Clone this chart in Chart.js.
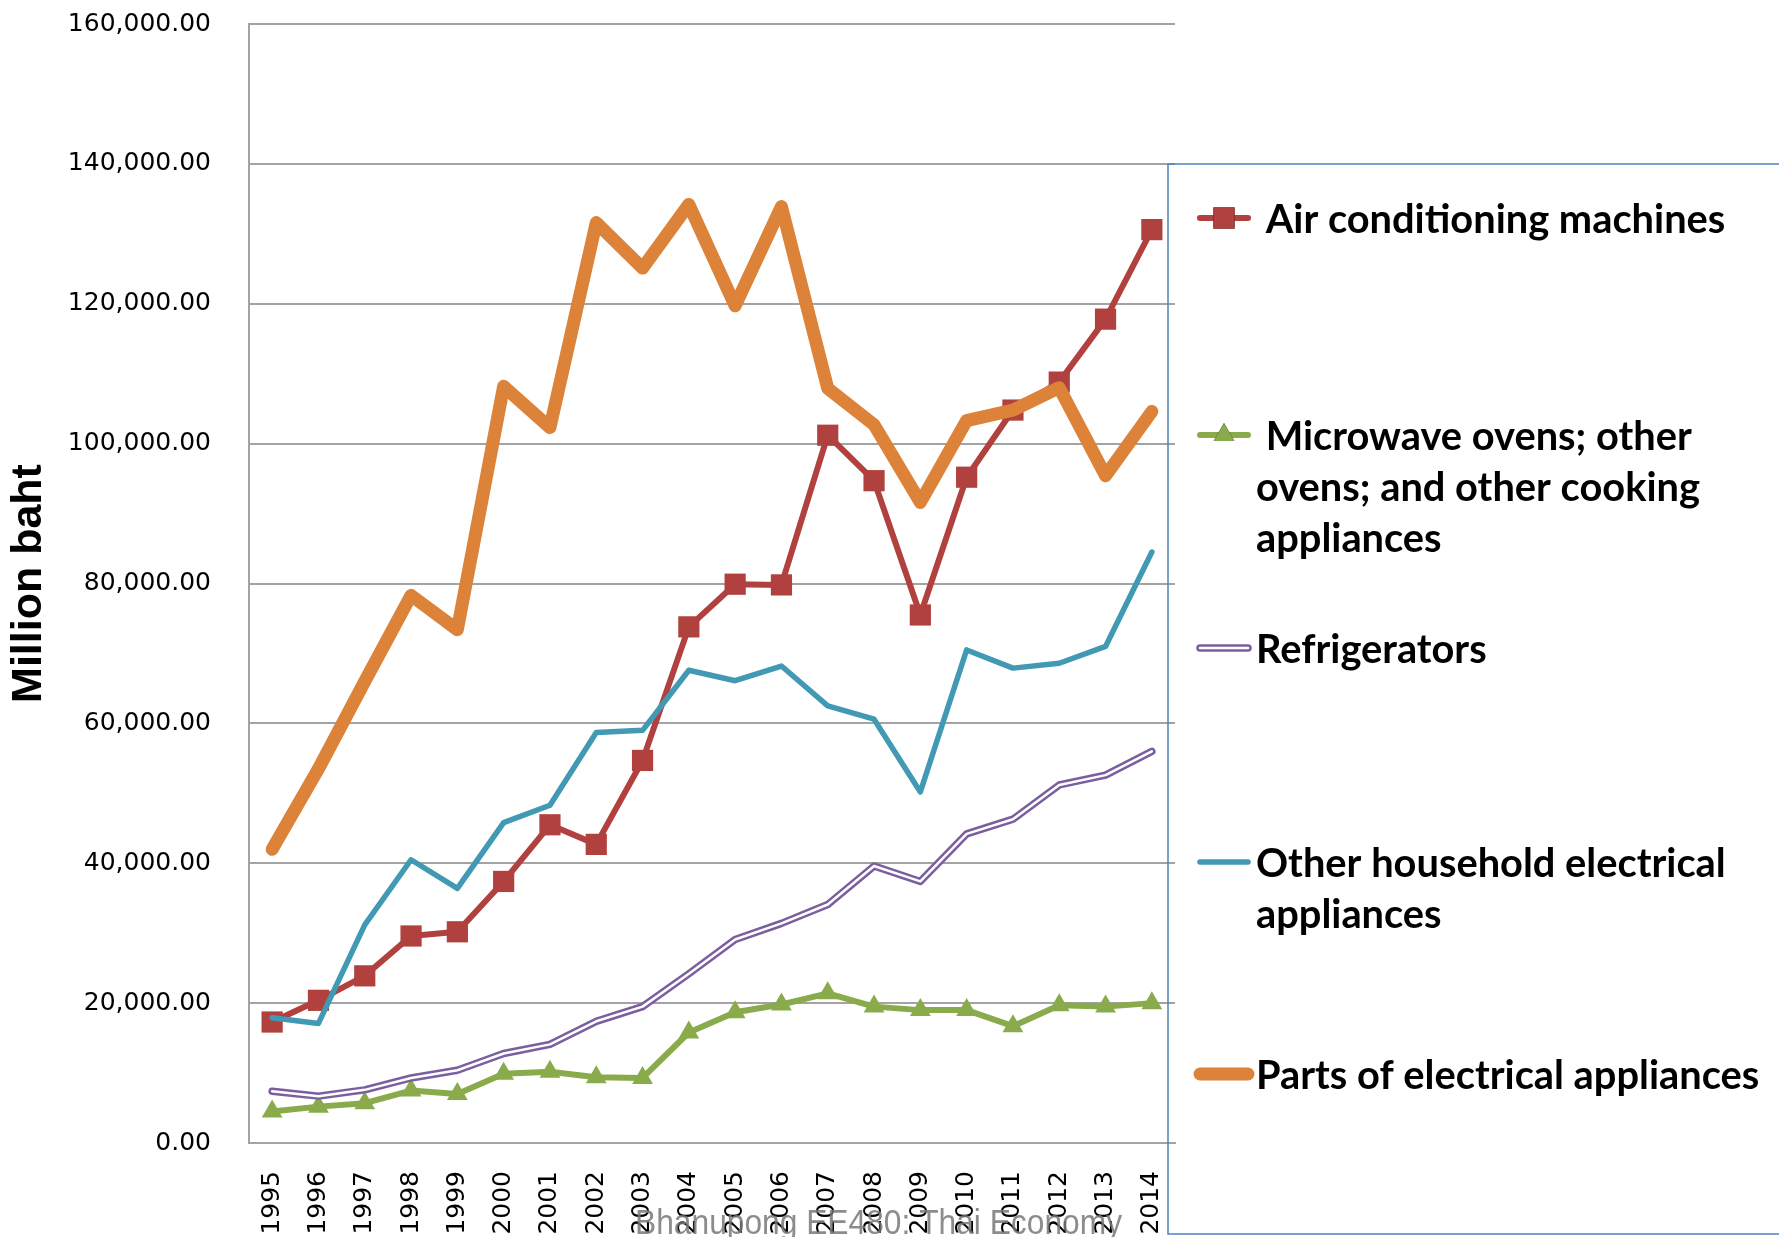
<!doctype html>
<html>
<head>
	<title>Thai household electrical appliances</title>
	<style>
		body { margin: 0; background: #fff; }
		canvas { display: block; }
	</style>
</head>
<body>
<canvas id="chart" width="1779" height="1237"></canvas>

<script src="https://cdn.jsdelivr.net/npm/chart.js"></script>
<script>

	const years = ['1995', '1996', '1997', '1998', '1999', '2000', '2001', '2002', '2003', '2004',
		'2005', '2006', '2007', '2008', '2009', '2010', '2011', '2012', '2013', '2014']

	const airConditioning = [17300, 20400, 23900, 29600, 30200, 37400, 45500, 42700, 54700, 73800,
		79900, 79800, 101200, 94700, 75500, 95200, 104800, 108800, 117800, 130600]
	const microwaveOvens = [4500, 5200, 5700, 7500, 7000, 9900, 10200, 9400, 9300, 15800,
		18700, 19800, 21400, 19500, 19000, 19000, 16700, 19700, 19500, 20000]
	const refrigerators = [7400, 6700, 7600, 9300, 10400, 12800, 14100, 17400, 19500, 24200,
		29100, 31400, 34100, 39600, 37400, 44200, 46300, 51200, 52600, 56000]
	const otherHousehold = [17900, 17100, 31200, 40500, 36400, 45800, 48300, 58700, 59000, 67600,
		66100, 68200, 62500, 60600, 50200, 70500, 67900, 68600, 71000, 84500]
	const partsOfAppliances = [42000, 53500, 66000, 78300, 73400, 108200, 102300, 131600, 125100, 134200,
		119700, 133900, 107900, 102700, 91600, 103300, 104800, 108000, 95400, 104600]

	// legend text, already wrapped the way the original shows it
	const legendText = [
		[' Air conditioning machines'],
		[' Microwave ovens; other', 'ovens; and other cooking', 'appliances'],
		['Refrigerators'],
		['Other household electrical', 'appliances'],
		['Parts of electrical appliances'],
	]
	const legendRowY = [218, 435, 648, 862, 1074]

	const yTitle = 'Million baht'
	const footer = 'Bhanupong EE480: Thai Economy'

	const RED = '#b0413e'
	const GREEN = '#8aab4b'
	const PURPLE = '#7b5ea0'
	const TEAL = '#4199b4'
	const ORANGE = '#dc8239'
	const GRID = '#a3a3a3'

	const tickFont = { family: 'DejaVu Sans', size: 25 }

	// white core stroke for the refrigerator "double" line
	const hollowLine = {
		id: 'hollowLine',
		afterDatasetDraw(chart, args) {
			if (args.index !== 2) return
			const pts = args.meta.data
			const ctx = chart.ctx
			ctx.save()
			ctx.strokeStyle = '#fff'
			ctx.lineWidth = 2.5
			ctx.lineJoin = 'round'
			ctx.lineCap = 'round'
			ctx.beginPath()
			pts.forEach((p, i) => i ? ctx.lineTo(p.x, p.y) : ctx.moveTo(p.x, p.y))
			ctx.stroke()
			ctx.restore()
		}
	}

	const sideLegend = {
		id: 'sideLegend',
		afterDraw(chart) {
			const ctx = chart.ctx
			ctx.save()

			ctx.strokeStyle = '#4f81bd'
			ctx.lineWidth = 1.5
			ctx.strokeRect(1168, 164, 700, 1070)

			// size the bold legend font by the width of the longest single line
			let size = 40
			ctx.font = 'bold ' + size + 'px Lato'
			size = size * 503 / ctx.measureText('Parts of electrical appliances').width
			ctx.font = 'bold ' + size.toFixed(1) + 'px Lato'
			ctx.fillStyle = '#000'
			ctx.textBaseline = 'middle'

			chart.data.datasets.forEach((ds, i) => {
				const y = legendRowY[i]
				ctx.lineCap = 'round'
				ctx.strokeStyle = ds.borderColor
				ctx.lineWidth = ds.borderWidth
				ctx.beginPath()
				ctx.moveTo(1200, y)
				ctx.lineTo(1248, y)
				ctx.stroke()
				if (i === 2) {
					ctx.strokeStyle = '#fff'
					ctx.lineWidth = 2.5
					ctx.stroke()
				}
				if (ds.pointRadius > 0) {
					Chart.helpers.drawPoint(ctx, {
						pointStyle: ds.pointStyle, radius: ds.pointRadius, borderWidth: 0, rotation: 0
					}, 1224, y)
					ctx.fillStyle = ds.pointBackgroundColor
					ctx.fill()
					ctx.fillStyle = '#000'
				}
				legendText[i].forEach((line, k) => {
					ctx.fillText(line, 1256, y + 2 + k * 51)
				})
			})

			// footer caption over the year labels
			ctx.font = '35px "Liberation Sans"'
			ctx.fillStyle = 'rgba(120,120,120,0.85)'
			ctx.textBaseline = 'alphabetic'
			const w = ctx.measureText(footer).width
			ctx.translate(635, 1234)
			ctx.scale(487 / w, 1)
			ctx.fillText(footer, 0, 0)

			ctx.restore()
		}
	}

	new Chart(document.getElementById('chart'), {
		type: 'line',
		data: {
			labels: years,
			datasets: [
				{
					label: 'Air conditioning machines',
					data: airConditioning,
					borderColor: RED,
					borderWidth: 6,
					pointStyle: 'rect',
					pointRadius: 15,
					pointBackgroundColor: RED,
					pointBorderWidth: 0,
					order: 5,
				},
				{
					label: 'Microwave ovens; other ovens; and other cooking appliances',
					data: microwaveOvens,
					borderColor: GREEN,
					borderWidth: 6,
					pointStyle: 'triangle',
					pointRadius: 12,
					pointBackgroundColor: GREEN,
					pointBorderWidth: 0,
					order: 4,
				},
				{
					label: 'Refrigerators',
					data: refrigerators,
					borderColor: PURPLE,
					borderWidth: 7.5,
					pointRadius: 0,
					order: 3,
				},
				{
					label: 'Other household electrical appliances',
					data: otherHousehold,
					borderColor: TEAL,
					borderWidth: 5.5,
					pointRadius: 0,
					order: 2,
				},
				{
					label: 'Parts of electrical appliances',
					data: partsOfAppliances,
					borderColor: ORANGE,
					borderWidth: 13,
					pointRadius: 0,
					order: 1,
				},
			]
		},
		options: {
			responsive: false,
			animation: false,
			devicePixelRatio: 1,
			datasets: { line: { tension: 0, fill: false, borderJoinStyle: 'round', borderCapStyle: 'round' } },
			layout: { padding: { top: 24, right: 604, left: 0, bottom: 0 } },
			plugins: {
				legend: { display: false },
				tooltip: { enabled: false },
			},
			scales: {
				x: {
					offset: true,
					grid: { display: false, drawTicks: false },
					border: { display: true, color: GRID, width: 2 },
					ticks: {
						font: tickFont,
						color: '#000',
						minRotation: 90,
						maxRotation: 90,
						autoSkip: false,
						padding: 28,
					},
					afterFit(scale) { scale.height = 94 },
				},
				y: {
					min: 0,
					max: 160000,
					// invisible tick marks give the label gap without padding the chart top
					grid: { color: GRID, lineWidth: 2, drawTicks: true, tickLength: 35, tickColor: 'rgba(0,0,0,0)' },
					border: { display: true, color: GRID, width: 2 },
					ticks: {
						stepSize: 20000,
						font: tickFont,
						color: '#000',
						padding: 3,
						callback: v => v.toLocaleString('en-US', { minimumFractionDigits: 2, maximumFractionDigits: 2 }),
					},
					title: {
						display: true,
						text: yTitle,
						color: '#000',
						font: { family: 'Liberation Sans', weight: 'bold', size: 43 },
						padding: { top: 3, bottom: 0 },
					},
					afterFit(scale) { scale.width = 249 },
				},
			},
		},
		plugins: [hollowLine, sideLegend],
	})

</script>
</body>
</html>
